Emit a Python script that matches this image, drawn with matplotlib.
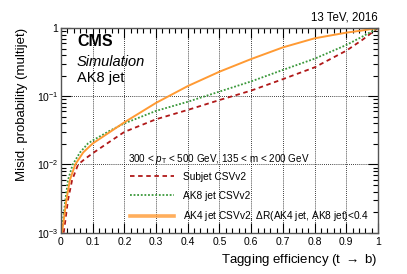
import math
import matplotlib
matplotlib.use("Agg")
import matplotlib.pyplot as plt
from matplotlib.ticker import MultipleLocator, LogLocator, FixedLocator, FuncFormatter, NullFormatter
from matplotlib.lines import Line2D

plt.rcParams['font.family'] = ['Liberation Sans', 'DejaVu Sans']
plt.rcParams['mathtext.fontset'] = 'custom'
plt.rcParams['mathtext.rm'] = 'Liberation Sans'
plt.rcParams['mathtext.it'] = 'Liberation Sans:italic'
plt.rcParams['mathtext.bf'] = 'Liberation Sans:bold'

# ---- data ----
subjet_eff = [0.0085, 0.0137, 0.022, 0.035, 0.054, 0.075, 0.1, 0.15, 0.2, 0.3, 0.4, 0.5, 0.6, 0.7, 0.8, 0.9, 0.95, 1.0]
subjet_mis = [0.001, 0.0015, 0.003, 0.0059, 0.010, 0.012, 0.0146, 0.021, 0.030, 0.046, 0.063, 0.088, 0.121, 0.178, 0.265, 0.465, 0.667, 1.0]

ak8_eff = [0.002, 0.006, 0.0137, 0.022, 0.037, 0.06, 0.085, 0.1, 0.15, 0.2, 0.3, 0.4, 0.5, 0.6, 0.7, 0.8, 0.9, 0.95, 1.0]
ak8_mis = [0.001, 0.0015, 0.003, 0.0059, 0.010, 0.015, 0.0203, 0.0225, 0.0305, 0.040, 0.061, 0.083, 0.117, 0.165, 0.243, 0.355, 0.563, 0.746, 1.0]

ak4_eff = [0.003, 0.0085, 0.017, 0.028, 0.045, 0.07, 0.1, 0.15, 0.2, 0.3, 0.4, 0.5, 0.6, 0.7, 0.8, 0.9, 0.95, 1.0]
ak4_mis = [0.001, 0.0015, 0.003, 0.0059, 0.010, 0.015, 0.0203, 0.029, 0.0415, 0.080, 0.141, 0.229, 0.351, 0.52, 0.706, 0.855, 0.92, 1.0]

labels = ["Subjet CSVv2", "AK8 jet CSVv2", "AK4 jet CSVv2, $\\Delta$R(AK4 jet, AK8 jet)<0.4"]
x_ticks = [0, 0.1, 0.2, 0.3, 0.4, 0.5, 0.6, 0.7, 0.8, 0.9, 1]

W, H = 407, 274
fig = plt.figure(figsize=(W / 100, H / 100), dpi=100)
ax = fig.add_axes([61 / W, 1 - 232.7 / H, (378 - 61) / W, (232.7 - 28) / H])

c_red = '#b01818'
c_green = '#3a983a'
c_orange = '#ff9a33'
ls_red = (0, (2.5, 2.0))
ls_green = (0, (1.0, 1.0))

ax.plot(subjet_eff, subjet_mis, color=c_red, lw=1.3, ls=ls_red)
ax.plot(ak8_eff, ak8_mis, color=c_green, lw=1.3, ls=ls_green)
ax.plot(ak4_eff, ak4_mis, color=c_orange, lw=1.4, ls='-')

ax.set_xlim(0, 1)
ax.set_yscale('log')
ax.set_ylim(1e-3, 1)

ax.xaxis.set_major_locator(FixedLocator(x_ticks))
ax.xaxis.set_minor_locator(MultipleLocator(0.02))
ax.xaxis.set_major_formatter(FuncFormatter(lambda v, p: ('%g' % v)))
ax.yaxis.set_major_locator(LogLocator(base=10, numticks=10))
ax.yaxis.set_minor_locator(LogLocator(base=10, subs=range(2, 10), numticks=20))
ax.yaxis.set_minor_formatter(NullFormatter())

def yfmt(v, p):
    e = int(round(math.log10(v)))
    if e == 0:
        return '1'
    return '$10^{%d}$' % e
ax.yaxis.set_major_formatter(FuncFormatter(yfmt))

ax.tick_params(which='both', direction='in', top=True, right=True, labelsize=7.5, colors='black')
ax.tick_params(which='major', length=7, width=0.8)
ax.tick_params(which='minor', length=3.5, width=0.8)
ax.tick_params(axis='x', pad=3)
ax.tick_params(axis='y', pad=2)

ax.grid(True, which='major', color='black', ls=(0, (1, 1.5)), lw=0.6)
for s in ax.spines.values():
    s.set_linewidth(1.0)
    s.set_color('#555555')

ax.set_xlabel('Tagging efficiency (t $\\rightarrow$ b)', fontsize=9.5, ha='right', x=1.0, labelpad=4)
ax.set_ylabel('Misid. probability (multijet)', fontsize=9.5, ha='right', y=1.0, labelpad=6)

fig.text(378 / W, 1 - 20 / H, '13 TeV, 2016', ha='right', va='baseline', fontsize=8.3)
fig.text(77 / W, 1 - 46 / H, 'CMS', ha='left', va='baseline', fontsize=11.5, fontweight='bold')
fig.text(77 / W, 1 - 66 / H, 'Simulation', ha='left', va='baseline', fontsize=10.5, style='italic')
fig.text(77 / W, 1 - 82 / H, 'AK8 jet', ha='left', va='baseline', fontsize=10.5)

fig.text(128 / W, 1 - 161.5 / H, '300 < $p_{\\mathrm{T}}$ < 500 GeV, 135 < m < 200 GeV',
         ha='left', va='baseline', fontsize=7.1)

handles = [Line2D([], [], color=c_red, lw=1.3, ls=ls_red),
           Line2D([], [], color=c_green, lw=1.3, ls=ls_green),
           Line2D([], [], color=c_orange, lw=2.6, ls='-', alpha=0.8)]
fig.legend(handles, labels, loc='upper left', bbox_to_anchor=(130 / W, 1 - 172 / H),
           frameon=False, fontsize=7.3, handlelength=4.3, handletextpad=0.95,
           labelspacing=0.85, borderpad=0, borderaxespad=0)

fig.savefig('out.png', dpi=100)
